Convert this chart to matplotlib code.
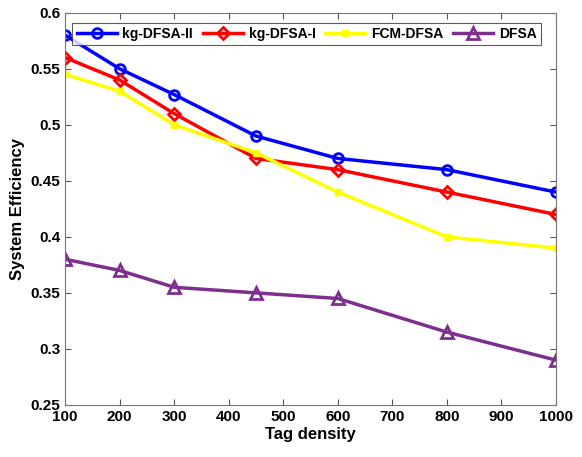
import matplotlib
matplotlib.use("Agg")
import matplotlib.pyplot as plt

plt.rcParams['font.family'] = ['Liberation Sans', 'DejaVu Sans']
plt.rcParams['font.weight'] = 'bold'

# tag density values
x = [100, 200, 300, 450, 600, 800, 1000]

kg_dfsa_2 = [0.58, 0.55, 0.527, 0.49, 0.47, 0.46, 0.44]
kg_dfsa_1 = [0.56, 0.54, 0.51, 0.47, 0.46, 0.44, 0.42]
fcm_dfsa = [0.545, 0.53, 0.50, 0.475, 0.44, 0.40, 0.39]
dfsa = [0.38, 0.37, 0.355, 0.35, 0.345, 0.315, 0.29]

xticks = [100, 200, 300, 400, 500, 600, 700, 800, 900, 1000]
yticks = [0.25, 0.3, 0.35, 0.4, 0.45, 0.5, 0.55, 0.6]
ytick_labels = ['0.25', '0.3', '0.35', '0.4', '0.45', '0.5', '0.55', '0.6']

fig = plt.figure(figsize=(5.82, 4.57), dpi=100)
ax = fig.add_axes([0.112, 0.114, 0.843, 0.858])

ax.plot(x, kg_dfsa_2, color='#0000ff', lw=2.5, marker='o', ms=7, mfc='none', mew=2, label='kg-DFSA-II')
ax.plot(x, kg_dfsa_1, color='#ff0000', lw=2.5, marker='D', ms=6, mfc='none', mew=2, label='kg-DFSA-I')
ax.plot(x, fcm_dfsa, color='#ffff00', lw=2.5, marker='s', ms=4, label='FCM-DFSA')
ax.plot(x, dfsa, color='#7e2f8e', lw=2.5, marker='^', ms=8, mfc='none', mew=2, label='DFSA')

ax.set_xlim(100, 1000)
ax.set_ylim(0.25, 0.6)
ax.set_xticks(xticks)
ax.set_yticks(yticks)
ax.set_yticklabels(ytick_labels)
ax.tick_params(direction='in', labelsize=11, length=4, color='#555555', top=True, right=True)
for s in ax.spines.values():
    s.set_color('#777777')

ax.set_xlabel('Tag density', fontsize=12, fontweight='bold', labelpad=2)
ax.set_ylabel('System Efficiency', fontsize=12, fontweight='bold', labelpad=4)

leg = ax.legend(loc='upper center', ncol=4, fontsize=10, frameon=True, fancybox=False,
                edgecolor='#333333', handlelength=2.9, columnspacing=0.7, handletextpad=0.4,
                borderpad=0.3, borderaxespad=0.3, bbox_to_anchor=(0.492, 0.985))
leg.get_frame().set_linewidth(0.8)

fig.savefig('out.png', dpi=100)
